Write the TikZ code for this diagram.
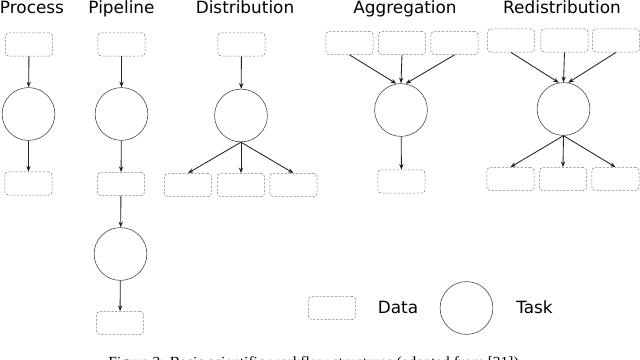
\documentclass[tikz,border=0pt]{standalone}
\usepackage{fontspec}
\setmainfont{DejaVu Sans}
\newfontfamily\captionFont{Liberation Serif}
\usetikzlibrary{arrows.meta}

\begin{document}
\begin{tikzpicture}[x=0.025cm, y=-0.025cm,
    dataBox/.style={draw=dataColour, dash pattern=on 1.6pt off 1.1pt, rounded corners=2.5pt,
        minimum width=1.18cm, minimum height=0.58cm, inner sep=0pt},
    taskCircle/.style={draw=taskColour, circle, minimum size=1.32cm, inner sep=0pt},
    flowArrow/.style={-{Stealth[length=4pt, width=3pt]}, draw=arrowColour, semithick},
    titleText/.style={anchor=base, font=\fontsize{12}{14}\selectfont}]
    \definecolor{dataColour}{HTML}{808080}
    \definecolor{taskColour}{HTML}{404040}
    \definecolor{arrowColour}{HTML}{202020}

    \useasboundingbox (0,0) rectangle (640,360);

    % Titles
    \node[titleText] (procTitle) at (32,14) {Process};
    \node[titleText] (pipeTitle) at (121.5,14) {Pipeline};
    \node[titleText] (distTitle) at (245,14) {Distribution};
    \node[titleText] (aggTitle) at (405,14) {Aggregation};
    \node[titleText] (redTitle) at (562,14) {Redistribution};

    % Process
    \node[dataBox] (procIn) at (29,44.5) {};
    \node[taskCircle] (procTask) at (28.5,114) {};
    \node[dataBox] (procOut) at (28.5,183.5) {};
    \draw[flowArrow] (procIn) -- (procTask);
    \draw[flowArrow] (procTask) -- (procOut);

    % Pipeline
    \node[dataBox] (pipeIn) at (121.5,44.5) {};
    \node[taskCircle] (pipeTaskA) at (121.5,114) {};
    \node[dataBox] (pipeMid) at (121,184) {};
    \node[taskCircle] (pipeTaskB) at (120.5,254) {};
    \node[dataBox] (pipeOut) at (120,323) {};
    \draw[flowArrow] (pipeIn) -- (pipeTaskA);
    \draw[flowArrow] (pipeTaskA) -- (pipeMid);
    \draw[flowArrow] (pipeMid) -- (pipeTaskB);
    \draw[flowArrow] (pipeTaskB) -- (pipeOut);

    % Distribution
    \node[dataBox] (distIn) at (241.5,44.5) {};
    \node[taskCircle] (distTask) at (241,115.5) {};
    \node[dataBox] (distOutA) at (188,185) {};
    \node[dataBox] (distOutB) at (241,185) {};
    \node[dataBox] (distOutC) at (293.5,185) {};
    \draw[flowArrow] (distIn) -- (distTask);
    \foreach \out in {distOutA, distOutB, distOutC}
        \draw[flowArrow] (distTask.south) -- (\out.north);

    % Aggregation
    \node[dataBox] (aggInA) at (349.5,43) {};
    \node[dataBox] (aggInB) at (402,43) {};
    \node[dataBox] (aggInC) at (454.5,43) {};
    \node[taskCircle] (aggTask) at (401,110) {};
    \node[dataBox] (aggOut) at (401.5,181.5) {};
    \draw[flowArrow] (aggInA.south) -- (aggTask.100);
    \draw[flowArrow] (aggInB.south) -- (aggTask.north);
    \draw[flowArrow] (aggInC.south) -- (aggTask.80);
    \draw[flowArrow] (aggTask) -- (aggOut);

    % Redistribution
    \node[dataBox] (redInA) at (511,40.5) {};
    \node[dataBox] (redInB) at (564.5,40.5) {};
    \node[dataBox] (redInC) at (616,40.5) {};
    \node[taskCircle] (redTask) at (563.5,109) {};
    \node[dataBox] (redOutA) at (510.5,179) {};
    \node[dataBox] (redOutB) at (563,179) {};
    \node[dataBox] (redOutC) at (615.5,179) {};
    \draw[flowArrow] (redInA.south) -- (redTask.100);
    \draw[flowArrow] (redInB.south) -- (redTask.north);
    \draw[flowArrow] (redInC.south) -- (redTask.80);
    \foreach \out in {redOutA, redOutB, redOutC}
        \draw[flowArrow] (redTask.south) -- (\out.north);

    % Legend
    \node[dataBox] (legData) at (332,308) {};
    \node[titleText] (legDataText) at (398,314) {Data};
    \node[taskCircle] (legTask) at (466.5,308) {};
    \node[titleText] (legTaskText) at (534.5,314) {Task};

    % Caption (cut off at the bottom, as in the source)
    \node[anchor=base, font=\captionFont\fontsize{11}{13}\selectfont] (caption) at (315.5,368)
        {Figure 2: Basic scientific workflow structures (adapted from [31]).};
\end{tikzpicture}
\end{document}
